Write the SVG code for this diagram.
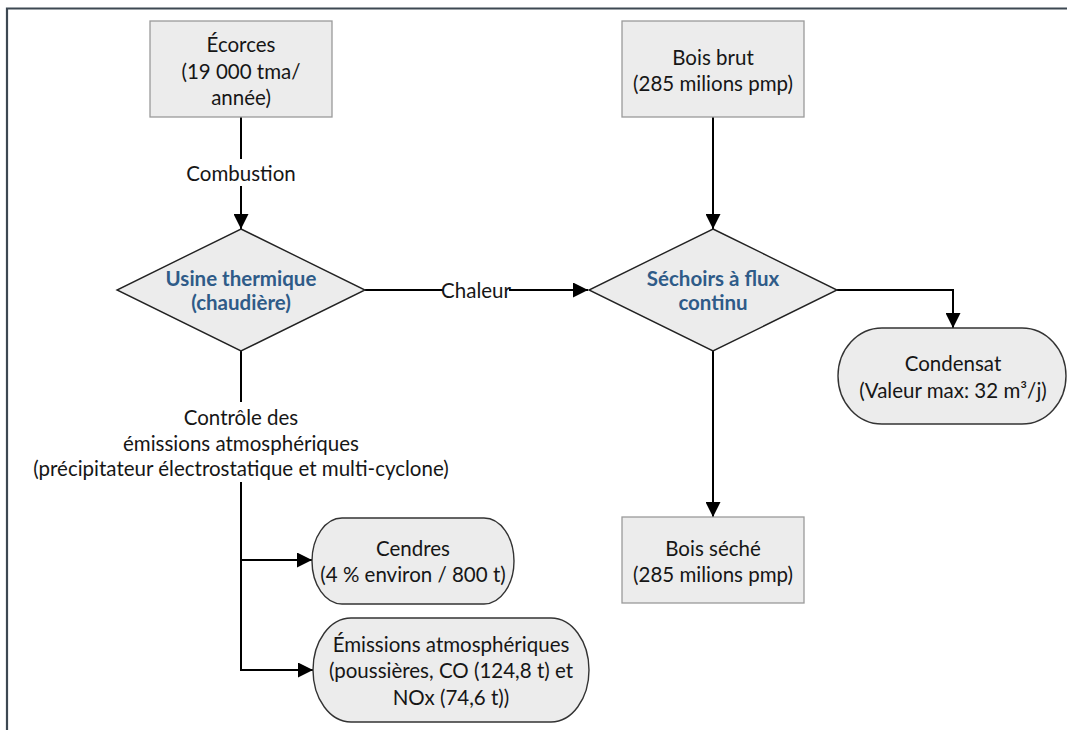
<svg xmlns="http://www.w3.org/2000/svg" width="1067" height="730" viewBox="0 0 1067 730">
<defs>
<marker id="arr" markerUnits="userSpaceOnUse" markerWidth="15" markerHeight="15" viewBox="0 0 15 15" refX="15" refY="7.5" orient="auto"><path d="M0,0 L15,7.5 L0,15 z" fill="#000"/></marker>
</defs>
<style>
.t{font-family:Lato,"Open Sans",sans-serif;font-size:20.5px;fill:#161616;text-anchor:middle;dominant-baseline:central}
.b{font-weight:bold;fill:#2f5b88}
.box{fill:#ececec;stroke:#9a9a9a;stroke-width:1.3}
.term{fill:#ececec;stroke:#333;stroke-width:1.4}
.dia{fill:#ececec;stroke:#222;stroke-width:1.4}
.c{fill:none;stroke:#000;stroke-width:2}
.frame{fill:none;stroke:#3d4852;stroke-width:2.2}
</style>
<rect width="1067" height="730" fill="#fff"/>
<path class="frame" d="M7,730 V8.5 H1067"/>

<g id="connectors">
<path class="c" d="M241,117 V159"/>
<path class="c" d="M241,186 V229" marker-end="url(#arr)"/>
<text class="t" x="241" y="173">Combustion</text>
<path class="c" d="M713,117 V229" marker-end="url(#arr)"/>
<path class="c" d="M365,290 H443"/>
<path class="c" d="M509,290 H588" marker-end="url(#arr)"/>
<text class="t" x="476" y="290">Chaleur</text>
<path class="c" d="M836,290 H953 V328" marker-end="url(#arr)"/>
<path class="c" d="M713,351 V517" marker-end="url(#arr)"/>
<path class="c" d="M241,351 V402"/>
<text class="t" x="241" y="417">Contrôle des</text>
<text class="t" x="241" y="443">émissions atmosphériques</text>
<text class="t" x="241" y="468">(précipitateur électrostatique et multi-cyclone)</text>
<path class="c" d="M241,482 V670 H313" marker-end="url(#arr)"/>
<path class="c" d="M241,560 H312" marker-end="url(#arr)"/>
</g>

<g id="ecorces">
<rect class="box" x="150" y="21" width="182" height="96"/>
<text class="t" x="241" y="44">Écorces</text>
<text class="t" x="241" y="71">(19 000 tma/</text>
<text class="t" x="241" y="97">année)</text>
</g>

<g id="bois-brut">
<rect class="box" x="622" y="21" width="182" height="96"/>
<text class="t" x="713" y="57">Bois brut</text>
<text class="t" x="713" y="83">(285 milions pmp)</text>
</g>

<g id="usine">
<polygon class="dia" points="241,229 365,290 241,351 117,290"/>
<text class="t b" x="241" y="278">Usine thermique</text>
<text class="t b" x="241" y="302">(chaudière)</text>
</g>

<g id="sechoirs">
<polygon class="dia" points="713,229 837,290 713,351 589,290"/>
<text class="t b" x="713" y="278">Séchoirs à flux</text>
<text class="t b" x="713" y="302">continu</text>
</g>

<g id="condensat">
<rect class="term" x="838" y="328" width="228" height="96" rx="44" ry="48"/>
<text class="t" x="953" y="363">Condensat</text>
<text class="t" x="953" y="390">(Valeur max: 32 m³/j)</text>
</g>

<g id="bois-seche">
<rect class="box" x="622" y="517" width="182" height="86"/>
<text class="t" x="713" y="548">Bois séché</text>
<text class="t" x="713" y="574">(285 milions pmp)</text>
</g>

<g id="cendres">
<rect class="term" x="312" y="518" width="202" height="86" rx="30" ry="43"/>
<text class="t" x="413" y="548">Cendres</text>
<text class="t" x="413" y="574">(4 % environ / 800 t)</text>
</g>

<g id="emissions">
<rect class="term" x="313" y="618" width="276" height="104" rx="38" ry="52"/>
<text class="t" x="451" y="644">Émissions atmosphériques</text>
<text class="t" x="451" y="670">(poussières, CO (124,8 t) et</text>
<text class="t" x="451" y="697">NOx (74,6 t))</text>
</g>
</svg>
